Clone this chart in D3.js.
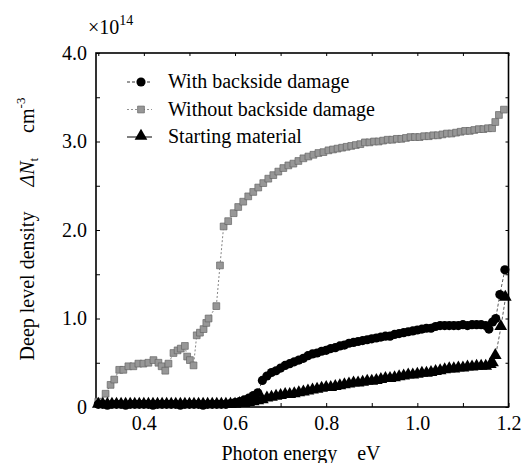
<!DOCTYPE html>
<html>
<head>
<meta charset="utf-8">
<script src="https://cdn.jsdelivr.net/npm/d3@7"></script>
</head>
<body style="margin:0">
<svg id="chart"></svg>
<script>
// photon energy (eV) and deep level density (x1e14 cm^-3)
const withDamageX = [0.30, 0.31, 0.32, 0.33, 0.34, 0.35, 0.36, 0.37, 0.38, 0.39, 0.40, 0.41, 0.42, 0.43, 0.44, 0.45, 0.46, 0.47, 0.48, 0.49, 0.50, 0.51, 0.52, 0.53, 0.54, 0.55, 0.56, 0.57, 0.58, 0.59,
  0.60, 0.61, 0.62, 0.63, 0.64, 0.65, 0.66, 0.67, 0.68, 0.69, 0.70, 0.71, 0.72, 0.73, 0.74, 0.75, 0.76, 0.77, 0.78, 0.79,
  0.80, 0.81, 0.82, 0.83, 0.84, 0.85, 0.86, 0.87, 0.88, 0.89, 0.90, 0.91, 0.92, 0.93, 0.94, 0.95, 0.96, 0.97, 0.98, 0.99,
  1.00, 1.01, 1.02, 1.03, 1.04, 1.05, 1.06, 1.07, 1.08, 1.09, 1.10, 1.11, 1.12, 1.13, 1.14, 1.15, 1.157, 1.165, 1.172, 1.181, 1.192];
const withDamage = [0.03, 0.03, 0.02, 0.03, 0.03, 0.03, 0.02, 0.03, 0.03, 0.03, 0.03, 0.03, 0.02, 0.03, 0.03, 0.03, 0.03, 0.03, 0.02, 0.03, 0.03, 0.03, 0.03, 0.02, 0.03, 0.03, 0.03, 0.03, 0.03, 0.04,
  0.05, 0.06, 0.08, 0.10, 0.13, 0.16, 0.30, 0.35, 0.39, 0.41, 0.44, 0.47, 0.49, 0.51, 0.53, 0.55, 0.58, 0.60, 0.61, 0.63,
  0.64, 0.66, 0.67, 0.69, 0.70, 0.72, 0.73, 0.74, 0.75, 0.76, 0.77, 0.78, 0.79, 0.80, 0.80, 0.82, 0.83, 0.84, 0.85, 0.86,
  0.87, 0.88, 0.89, 0.89, 0.91, 0.92, 0.92, 0.92, 0.92, 0.92, 0.93, 0.92, 0.93, 0.93, 0.93, 0.92, 0.88, 0.96, 1.00, 1.27, 1.55];

const withoutDamageX = [0.300, 0.316, 0.327, 0.335, 0.346, 0.355, 0.366, 0.377, 0.388, 0.399, 0.410, 0.421, 0.432, 0.439, 0.447, 0.454, 0.465, 0.474, 0.481, 0.490,
  0.495, 0.501, 0.509, 0.516, 0.523, 0.531, 0.537, 0.542, 0.559, 0.567, 0.575, 0.585, 0.597, 0.607, 0.618, 0.629, 0.640, 0.651, 0.662, 0.673,
  0.684, 0.695, 0.706, 0.717, 0.728, 0.739, 0.750, 0.761, 0.772, 0.783, 0.794, 0.805, 0.815, 0.825, 0.835, 0.845, 0.855, 0.865, 0.875, 0.885,
  0.895, 0.905, 0.915, 0.925, 0.935, 0.945, 0.955, 0.965, 0.975, 0.985, 0.995, 1.005, 1.015, 1.025, 1.035, 1.045, 1.055, 1.065, 1.075, 1.085,
  1.095, 1.105, 1.115, 1.125, 1.135, 1.145, 1.155, 1.164, 1.171, 1.179, 1.190];
const withoutDamage = [0.06, 0.15, 0.25, 0.31, 0.42, 0.42, 0.46, 0.46, 0.49, 0.49, 0.50, 0.53, 0.50, 0.46, 0.41, 0.49, 0.61, 0.64, 0.66, 0.69,
  0.57, 0.53, 0.47, 0.81, 0.84, 0.88, 0.95, 1.00, 1.14, 1.60, 2.04, 2.10, 2.19, 2.26, 2.32, 2.38, 2.43, 2.48, 2.53, 2.58,
  2.62, 2.66, 2.70, 2.73, 2.75, 2.78, 2.81, 2.83, 2.85, 2.87, 2.88, 2.90, 2.91, 2.92, 2.93, 2.94, 2.95, 2.96, 2.97, 2.99,
  2.99, 3.00, 3.00, 3.01, 3.02, 3.02, 3.03, 3.03, 3.04, 3.05, 3.05, 3.05, 3.06, 3.06, 3.07, 3.07, 3.08, 3.09, 3.09, 3.10,
  3.11, 3.12, 3.12, 3.13, 3.14, 3.14, 3.15, 3.15, 3.22, 3.30, 3.36];

const startingX = [0.30, 0.31, 0.32, 0.33, 0.34, 0.35, 0.36, 0.37, 0.38, 0.39, 0.40, 0.41, 0.42, 0.43, 0.44, 0.45, 0.46, 0.47, 0.48, 0.49, 0.50, 0.51, 0.52, 0.53, 0.54, 0.55, 0.56, 0.57, 0.58, 0.59,
  0.60, 0.61, 0.62, 0.63, 0.64, 0.65, 0.66, 0.67, 0.68, 0.69, 0.70, 0.71, 0.72, 0.73, 0.74, 0.75, 0.76, 0.77, 0.78, 0.79,
  0.80, 0.81, 0.82, 0.83, 0.84, 0.85, 0.86, 0.87, 0.88, 0.89, 0.90, 0.91, 0.92, 0.93, 0.94, 0.95, 0.96, 0.97, 0.98, 0.99,
  1.00, 1.01, 1.02, 1.03, 1.04, 1.05, 1.06, 1.07, 1.08, 1.09, 1.10, 1.11, 1.12, 1.13, 1.14, 1.15, 1.16, 1.165, 1.171, 1.183, 1.193];
const starting = [0.01, 0.01, 0.01, 0.01, 0.01, 0.01, 0.01, 0.01, 0.01, 0.01, 0.01, 0.01, 0.01, 0.01, 0.01, 0.01, 0.01, 0.01, 0.01, 0.01, 0.01, 0.01, 0.01, 0.01, 0.01, 0.01, 0.01, 0.01, 0.01, 0.01,
  0.01, 0.02, 0.02, 0.03, 0.04, 0.05, 0.06, 0.08, 0.09, 0.10, 0.11, 0.12, 0.12, 0.13, 0.14, 0.15, 0.16, 0.17, 0.18, 0.19,
  0.20, 0.20, 0.21, 0.22, 0.23, 0.24, 0.25, 0.25, 0.26, 0.27, 0.27, 0.28, 0.29, 0.30, 0.30, 0.31, 0.32, 0.33, 0.34, 0.34,
  0.35, 0.36, 0.36, 0.37, 0.38, 0.39, 0.40, 0.41, 0.41, 0.42, 0.42, 0.43, 0.43, 0.44, 0.44, 0.44, 0.46, 0.48, 0.56, 0.89, 1.22];

const xTicks = [0.4, 0.6, 0.8, 1.0, 1.2];
const xTickLabels = ["0.4", "0.6", "0.8", "1.0", "1.2"];
const yTicks = [0, 1, 2, 3, 4];
const yTickLabels = ["0", "1.0", "2.0", "3.0", "4.0"];
const legendLabels = ["With backside damage", "Without backside damage", "Starting material"];

const width = 524;
const height = 463;
const margin = { top: 53, right: 15.5, bottom: 56, left: 96 };
const fontSize = 20;

const svg = d3.select("#chart")
  .attr("width", width)
  .attr("height", height)
  .style("font-family", "Liberation Serif");

const x = d3.scaleLinear()
  .domain([0.295, 1.2])
  .range([margin.left, width - margin.right]);

const y = d3.scaleLinear()
  .domain([0, 4])
  .range([height - margin.bottom, margin.top]);

// small ticks pointing into the frame
svg.append("g")
  .attr("transform", `translate(0, ${height - margin.bottom})`)
  .call(d3.axisBottom(x).tickValues(d3.range(0.3, 1.201, 0.1)).tickSize(-4).tickFormat(""))
  .call(g => g.select(".domain").remove());

svg.append("g")
  .attr("transform", `translate(${margin.left}, 0)`)
  .call(d3.axisLeft(y).tickValues(d3.range(0, 4.01, 0.5)).tickSize(-4).tickFormat(""))
  .call(g => g.select(".domain").remove());

svg.append("g")
  .attr("transform", `translate(${width - margin.right}, 0)`)
  .call(d3.axisRight(y).tickValues(d3.range(0, 4.01, 0.5)).tickSize(-3).tickFormat(""))
  .call(g => g.select(".domain").remove());

svg.append("g")
  .attr("transform", `translate(0, ${margin.top})`)
  .call(d3.axisTop(x).tickValues(d3.range(0.3, 1.201, 0.1)).tickSize(-3).tickFormat(""))
  .call(g => g.select(".domain").remove());

// tick labels
svg.append("g")
  .attr("transform", `translate(0, ${height - margin.bottom})`)
  .call(d3.axisBottom(x).tickValues(xTicks).tickSize(0).tickPadding(9)
    .tickFormat((d, i) => xTickLabels[i]))
  .call(g => g.select(".domain").remove())
  .call(g => g.selectAll("text")
    .style("font-family", "Liberation Serif")
    .style("font-size", fontSize + "px")
    .attr("fill", "#000"));

svg.append("g")
  .attr("transform", `translate(${margin.left}, 0)`)
  .call(d3.axisLeft(y).tickValues(yTicks).tickSize(0).tickPadding(9)
    .tickFormat((d, i) => yTickLabels[i]))
  .call(g => g.select(".domain").remove())
  .call(g => g.selectAll("text")
    .style("font-family", "Liberation Serif")
    .style("font-size", fontSize + "px")
    .attr("fill", "#000"));

// frame
svg.append("rect")
  .attr("x", margin.left)
  .attr("y", margin.top)
  .attr("width", width - margin.left - margin.right)
  .attr("height", height - margin.top - margin.bottom)
  .attr("fill", "none")
  .attr("stroke", "#000")
  .attr("stroke-width", 1.6);

const line = d3.line().x(d => x(d[0])).y(d => y(d[1]));

const grayPts = withoutDamageX.map((v, i) => [v, withoutDamage[i]]);
const circlePts = withDamageX.map((v, i) => [v, withDamage[i]]);
const triPts = startingX.map((v, i) => [v, starting[i]]);

const plot = svg.append("g");

plot.append("path")
  .datum(grayPts)
  .attr("d", line)
  .attr("fill", "none")
  .attr("stroke", "#666")
  .attr("stroke-width", 0.8)
  .attr("stroke-dasharray", "2,2");

plot.append("path")
  .datum(circlePts)
  .attr("d", line)
  .attr("fill", "none")
  .attr("stroke", "#333")
  .attr("stroke-width", 0.8)
  .attr("stroke-dasharray", "3,2");

plot.append("path")
  .datum(triPts)
  .attr("d", line)
  .attr("fill", "none")
  .attr("stroke", "#333")
  .attr("stroke-width", 0.8)
  .attr("stroke-dasharray", "3,2");

const squareSym = d3.symbol().type(d3.symbolSquare).size(46);
const circleSym = d3.symbol().type(d3.symbolCircle).size(66);
const triSym = d3.symbol().type(d3.symbolTriangle).size(70);

plot.selectAll(".sq")
  .data(grayPts)
  .enter()
  .append("path")
  .attr("class", "sq")
  .attr("d", squareSym)
  .attr("transform", d => `translate(${x(d[0])}, ${y(d[1])})`)
  .attr("fill", "#979797")
  .attr("stroke", "#666")
  .attr("stroke-width", 0.7);

plot.selectAll(".tri")
  .data(triPts)
  .enter()
  .append("path")
  .attr("class", "tri")
  .attr("d", triSym)
  .attr("transform", d => `translate(${x(d[0])}, ${y(d[1]) - 2})`)
  .attr("fill", "#000");

plot.selectAll(".dot")
  .data(circlePts)
  .enter()
  .append("path")
  .attr("class", "dot")
  .attr("d", circleSym)
  .attr("transform", d => `translate(${x(d[0])}, ${y(d[1])})`)
  .attr("fill", "#000");

// legend
const legend = svg.append("g").attr("transform", "translate(127, 82)");
const legendRowGap = 27.5;

legendLabels.forEach((label, i) => {
  const row = legend.append("g").attr("transform", `translate(0, ${i * legendRowGap})`);
  row.append("line")
    .attr("x1", 0).attr("x2", 25)
    .attr("y1", 0).attr("y2", 0)
    .attr("stroke", i === 1 ? "#777" : "#000")
    .attr("stroke-width", i === 2 ? 1 : 0.8)
    .attr("stroke-dasharray", i === 0 ? "3,2" : i === 1 ? "2,2" : null);
  const sym = i === 0 ? circleSym : i === 1 ? squareSym : triSym;
  row.append("path")
    .attr("d", sym)
    .attr("transform", `translate(14, ${i === 2 ? -1 : 0})`)
    .attr("fill", i === 1 ? "#979797" : "#000")
    .attr("stroke", i === 1 ? "#666" : "none")
    .attr("stroke-width", 0.7);
  row.append("text")
    .attr("x", 41)
    .attr("y", 6)
    .attr("font-family", "Liberation Serif")
    .attr("font-size", fontSize)
    .text(label);
});

// multiplier above the y axis
const mult = svg.append("text")
  .attr("x", 88)
  .attr("y", 34)
  .attr("font-family", "Liberation Serif")
  .attr("font-size", fontSize);
mult.append("tspan").text("\u00d710");
mult.append("tspan").attr("font-size", 14).attr("dy", -9).text("14");

// y axis title
const yTitle = svg.append("text")
  .attr("transform", "translate(34, 229) rotate(-90)")
  .attr("text-anchor", "middle")
  .attr("font-family", "Liberation Serif")
  .attr("font-size", fontSize);
yTitle.append("tspan").text("Deep level density\u2003 ");
yTitle.append("tspan").attr("font-style", "italic").text("\u0394N");
yTitle.append("tspan").attr("font-size", 13).attr("dy", 4).text("t");
yTitle.append("tspan").attr("dy", -4).text("\u2003 cm");
yTitle.append("tspan").attr("font-size", 13).attr("dy", -9).text("-3");

// x axis title
svg.append("text")
  .attr("x", 301)
  .attr("y", 460)
  .attr("text-anchor", "middle")
  .attr("font-family", "Liberation Serif")
  .attr("font-size", fontSize)
  .style("white-space", "pre")
  .text("Photon energy    eV");
</script>
</body>
</html>
